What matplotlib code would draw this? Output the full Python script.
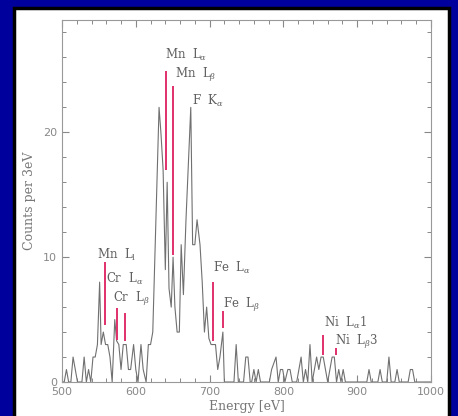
import matplotlib
matplotlib.use("Agg")
import matplotlib.pyplot as plt
from matplotlib.patches import Rectangle
from matplotlib.ticker import MultipleLocator

# spectrum vertices (energy in eV, counts per 3 eV)
energia = [500, 503, 506, 509, 512, 515, 518, 521, 527, 530, 533, 536, 539,
           542, 545, 548, 551, 553, 556, 559, 562, 565, 568, 571.5, 574, 577,
           580, 583, 587, 590, 593, 597, 600, 603, 607, 610, 614, 617, 620,
           623, 631.5, 634, 637, 640, 642.5, 645, 648, 650.5, 653, 656, 659,
           661.5, 664.5, 668, 674.5, 677, 680, 683, 687, 690, 693, 696, 699,
           702, 705, 708, 711, 714, 718, 720, 733, 736, 739, 746, 749, 752,
           755, 757, 760, 763, 766, 769, 781, 784, 790, 793, 796, 799, 802,
           806, 809, 812, 818, 821, 824, 827, 830, 833, 836, 839, 842, 845,
           848, 851, 854, 857, 860, 863, 866, 869, 872, 875, 878, 881, 884,
           913, 916, 919, 928, 931, 934, 940, 943, 946, 951, 954, 957, 969,
           972, 975, 978, 1000]
contagens = [0, 0, 1, 0, 0, 2, 1, 0, 0, 2, 0, 1, 0,
             2, 2, 3, 8, 3, 4, 3, 3, 2, 0, 5, 3.3, 3,
             1, 3, 3, 1, 1, 3, 1, 0, 3, 1, 0, 3, 3,
             4, 22, 20, 17, 9, 16, 7.5, 6, 10, 6, 4, 4,
             11, 7, 13, 22, 11, 11, 13, 11, 8, 4, 6, 3.5,
             3, 3, 3, 1, 2, 4, 0, 0, 3, 0, 0, 2, 2,
             0, 0, 1, 0, 1, 0, 0, 1, 2, 0, 1, 1, 0,
             1, 1, 0, 0, 1, 2, 0, 1, 0, 3, 0, 1, 2,
             1, 2, 2, 1, 0, 1, 2, 2, 0, 1, 0, 1, 0,
             0, 1, 0, 0, 1, 0, 0, 2, 0, 0, 1, 0, 0,
             1, 1, 0, 0]

# line identifications: position, red marker span, label text, label anchor
linhas_nome = [r'Mn  L$_\alpha$', r'Mn  L$_\beta$', r'F  K$_\alpha$',
               r'Mn  L$_{\rm l}$', r'Cr  L$_\alpha$', r'Cr  L$_\beta$',
               r'Fe  L$_\alpha$', r'Fe  L$_\beta$', r'Ni  L$_\alpha$1',
               r'Ni  L$_\beta$3']
linhas_x = [641.5, 650, None, 558.3, 575, 586, 705, 718.4, 854, 871.6]
linhas_topo = [24.9, 23.7, None, 9.6, 5.9, 5.5, 8.0, 5.7, 3.8, 2.7]
linhas_base = [17.0, 10.2, None, 4.6, 3.4, 3.3, 3.3, 4.3, 2.2, 2.2]
rotulo_x = [640, 653, 676, 548, 560, 569, 705, 717.5, 855, 870]
rotulo_y = [25.9, 24.4, 22.2, 9.87, 7.9, 6.4, 8.85, 5.9, 4.45, 3.0]

plt.rcParams['mathtext.fontset'] = 'dejavuserif'

fig = plt.figure(figsize=(4.58, 4.16), dpi=100)
fig.patch.set_facecolor('#00009c')
painel = Rectangle((14 / 458, -0.01), (449 - 14) / 458, 1.01 - 8 / 416,
                   transform=fig.transFigure, facecolor='white',
                   edgecolor='black', linewidth=2.5, zorder=-5)
fig.patches.append(painel)

ax = fig.add_axes([62 / 458, 1 - 382 / 416, (431 - 62) / 458, (382 - 20) / 416])
ax.set_zorder(2)
ax.plot(energia, contagens, color='#707070', linewidth=0.8)

for i, nome in enumerate(linhas_nome):
    if linhas_x[i] is not None:
        ax.vlines(linhas_x[i], linhas_base[i], linhas_topo[i],
                  color='#e0306a', linewidth=1.4)
    ax.text(rotulo_x[i], rotulo_y[i], nome, family='DejaVu Serif',
            fontsize=8.5, color='#606060', ha='left', va='baseline')

ax.set_xlim(500, 1000)
ax.set_ylim(0, 29)
ax.xaxis.set_major_locator(MultipleLocator(100))
ax.xaxis.set_minor_locator(MultipleLocator(20))
ax.yaxis.set_major_locator(MultipleLocator(10))
ax.yaxis.set_minor_locator(MultipleLocator(2))
ax.tick_params(which='both', direction='in', top=True, right=True,
               color='#888888', labelcolor='#888888', labelsize=8)
ax.tick_params(which='major', length=5, width=0.8)
ax.tick_params(which='minor', length=3, width=0.7)
for lado in ax.spines.values():
    lado.set_color('#999999')
    lado.set_linewidth(0.8)
ax.set_facecolor('white')

ax.set_xlabel('Energy [eV]', family='DejaVu Serif', fontsize=9,
              color='#777777', labelpad=2)
ax.set_ylabel('Counts per 3eV', family='DejaVu Serif', fontsize=9,
              color='#777777', labelpad=5)

fig.savefig('out.png', dpi=100, facecolor=fig.get_facecolor())
